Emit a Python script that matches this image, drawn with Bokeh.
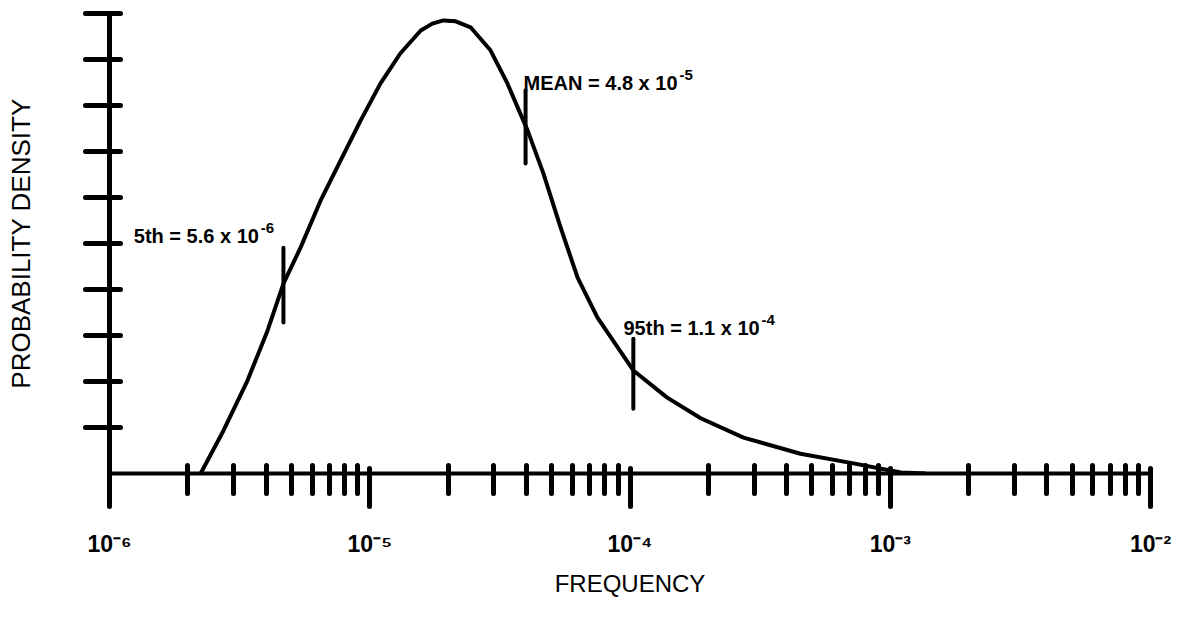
from bokeh.plotting import figure
from bokeh.models import FixedTicker, Label, CustomJSTickFormatter
from bokeh.embed import file_html
from bokeh.resources import INLINE

# ---- data ----
freq = [2.24e-6, 2.74e-6, 3.39e-6, 4.05e-6, 4.66e-6, 5.42e-6, 6.47e-6, 7.72e-6,
        9.22e-6, 1.10e-5, 1.31e-5, 1.57e-5, 1.74e-5, 1.92e-5, 2.14e-5, 2.44e-5,
        2.91e-5, 3.38e-5, 4.04e-5, 4.65e-5, 5.41e-5, 6.29e-5, 7.50e-5, 1.03e-4,
        1.39e-4, 1.87e-4, 2.73e-4, 4.52e-4, 7.22e-4, 1.10e-3, 1.37e-3]
density = [0.0, 0.93, 2.02, 3.11, 4.13, 4.91, 5.93, 6.80,
           7.67, 8.48, 9.13, 9.63, 9.78, 9.85, 9.83, 9.70,
           9.20, 8.48, 7.46, 6.52, 5.35, 4.26, 3.39, 2.24,
           1.65, 1.20, 0.78, 0.43, 0.22, 0.02, 0.0]

marker_names = ["5th", "MEAN", "95th"]
marker_x = [4.66e-6, 3.97e-5, 1.03e-4]
marker_y0 = [3.28, 6.74, 1.41]
marker_y1 = [4.91, 8.33, 2.93]

ann_text = ["5th = 5.6 x 10", "MEAN = 4.8 x 10", "95th = 1.1 x 10"]
ann_exp = ["-6", "-5", "-4"]
ann_x = [1.24e-6, 3.90e-5, 9.44e-5]
ann_y = [5.17, 8.48, 3.17]

major_ticks = [1e-6, 1e-5, 1e-4, 1e-3, 1e-2]
minor_ticks = [m * d for d in [1e-6, 1e-5, 1e-4, 1e-3] for m in range(2, 10)]
y_ticks = [1, 2, 3, 4, 5, 6, 7, 8, 9, 10]

FONT = "Liberation Sans"

p = figure(width=1187, height=620, x_axis_type="log",
           x_range=(1e-6, 1e-2), y_range=(0, 10),
           output_backend="svg", toolbar_location=None,
           min_border_left=109, min_border_right=37,
           min_border_top=13, min_border_bottom=147)
p.outline_line_color = None
p.grid.visible = False
p.background_fill_color = "white"
p.border_fill_color = "white"

# x axis: decade labels "10" with superscript exponent
sup_code = """
const e = Math.round(Math.log10(tick));
const sup = {"-": "\\u207b", "0": "\\u2070", "1": "\\u00b9", "2": "\\u00b2",
             "3": "\\u00b3", "4": "\\u2074", "5": "\\u2075", "6": "\\u2076",
             "7": "\\u2077", "8": "\\u2078", "9": "\\u2079"};
return "10" + String(e).split("").map(c => sup[c]).join("");
"""
xa = p.xaxis[0]
xa.ticker = FixedTicker(ticks=major_ticks, minor_ticks=minor_ticks)
xa.formatter = CustomJSTickFormatter(code=sup_code)
xa.axis_line_width = 4
xa.major_tick_line_width = 5
xa.minor_tick_line_width = 5
xa.major_tick_line_cap = "round"
xa.minor_tick_line_cap = "round"
xa.major_tick_in = 5
xa.major_tick_out = 33
xa.minor_tick_in = 8
xa.minor_tick_out = 20
xa.major_label_text_font = FONT
xa.major_label_text_font_size = "23px"
xa.major_label_text_font_style = "bold"
xa.major_label_text_color = "black"
xa.major_label_standoff = 24
xa.axis_label = "FREQUENCY"
xa.axis_label_text_font = FONT
xa.axis_label_text_font_size = "24px"
xa.axis_label_text_font_style = "normal"
xa.axis_label_text_color = "black"
xa.axis_label_standoff = 10

# y axis
ya = p.yaxis[0]
ya.ticker = FixedTicker(ticks=y_ticks)
ya.axis_line_width = 5
ya.major_tick_line_width = 5
ya.major_tick_line_cap = "round"
ya.major_tick_in = 11
ya.major_tick_out = 24
ya.minor_tick_line_color = None
ya.major_label_text_font_size = "0px"
ya.major_label_text_color = None
ya.major_label_standoff = 0
ya.axis_label = "PROBABILITY DENSITY"
ya.axis_label_text_font = FONT
ya.axis_label_text_font_size = "26px"
ya.axis_label_text_font_style = "normal"
ya.axis_label_text_color = "black"
ya.axis_label_standoff = 50

# curve
p.line(freq, density, line_width=4, line_color="black", line_join="round")

# percentile / mean markers
p.segment(x0=marker_x, y0=marker_y0, x1=marker_x, y1=marker_y1,
          line_width=4, line_color="black", line_cap="round")

# annotations with superscript exponents
base_w = [125, 154, 136]
for t, e, x, y, w in zip(ann_text, ann_exp, ann_x, ann_y, base_w):
    p.add_layout(Label(x=x, y=y, text=t, text_font=FONT, text_font_size="20px",
                       text_font_style="bold", text_color="black",
                       text_baseline="alphabetic"))
    p.add_layout(Label(x=x, y=y, x_offset=w + 2, y_offset=8, text=e,
                       text_font=FONT, text_font_size="15px",
                       text_font_style="bold", text_color="black",
                       text_baseline="alphabetic"))

open("out.html", "w").write(file_html(p, INLINE))
